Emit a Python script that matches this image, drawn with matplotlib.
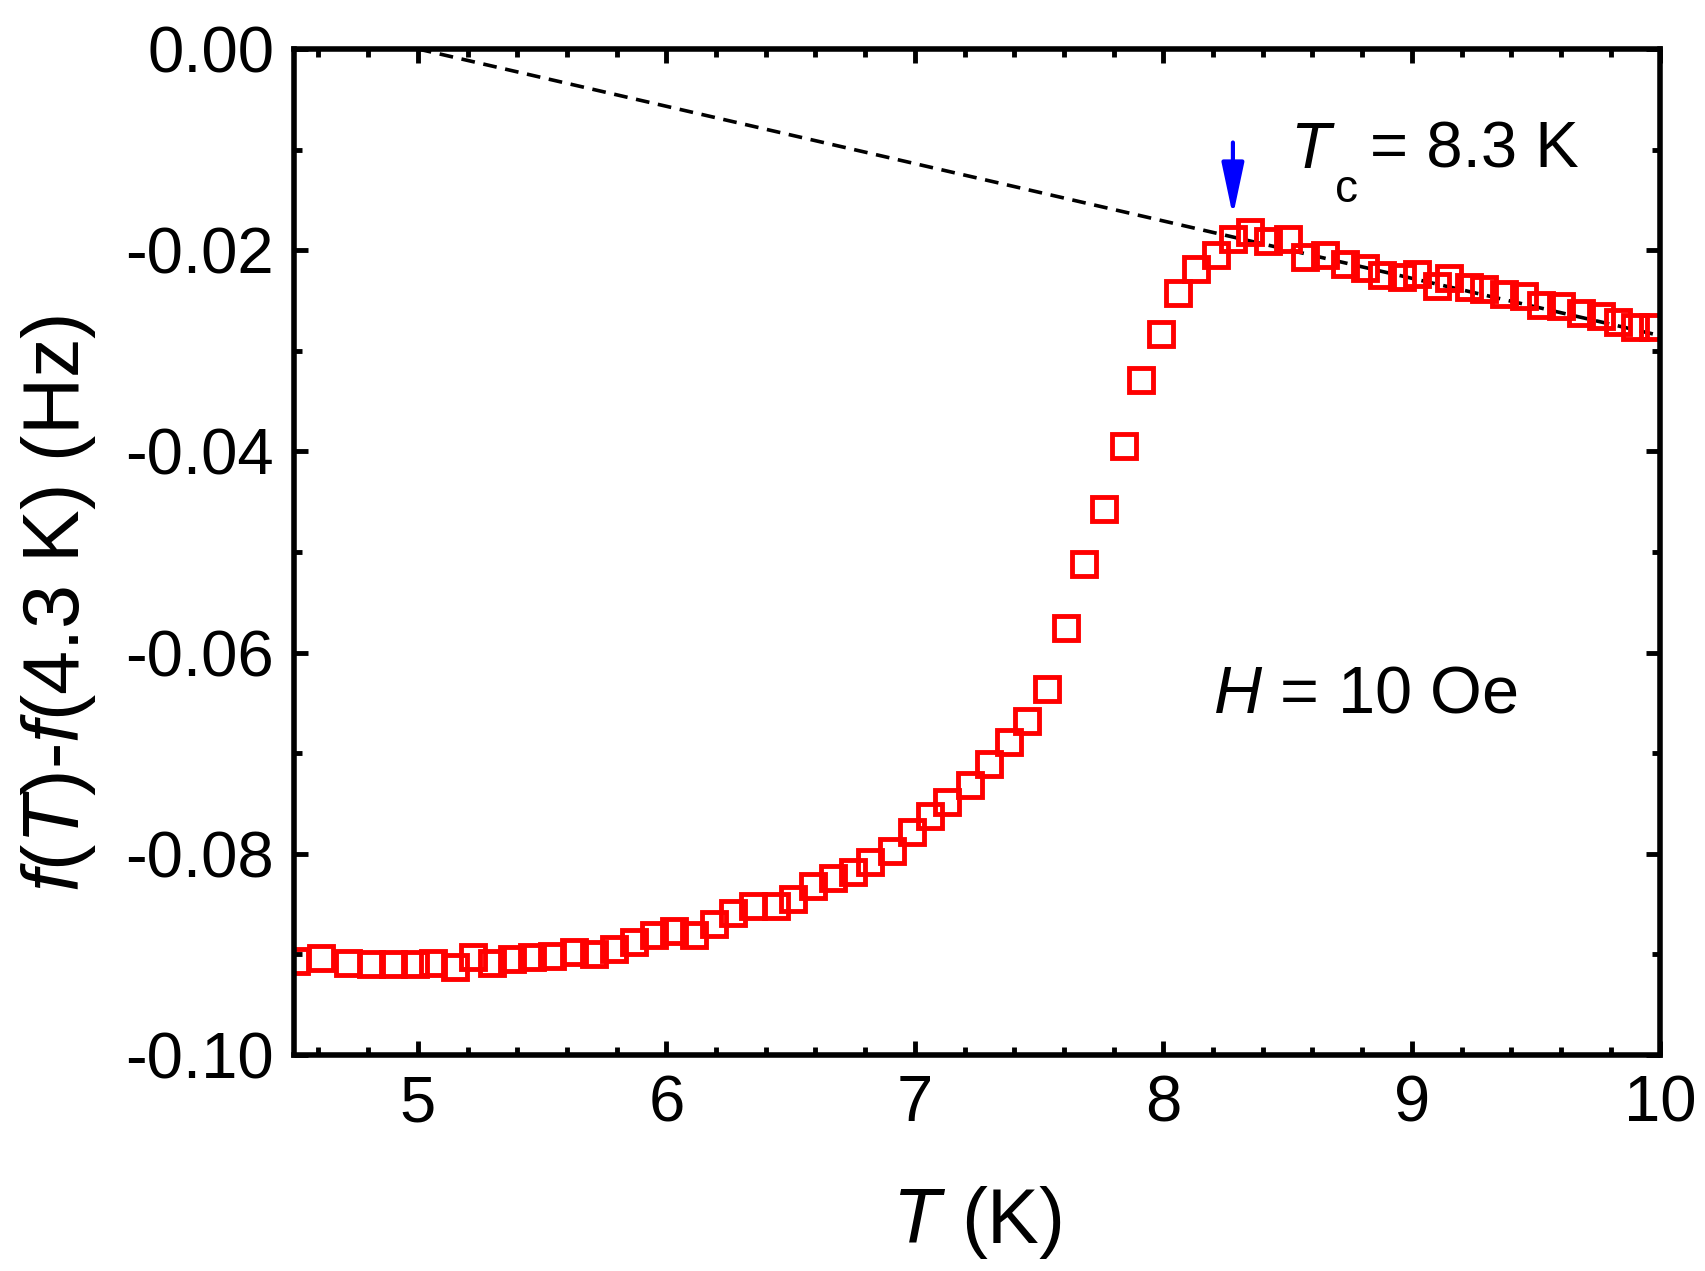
import matplotlib
matplotlib.use('Agg')
from matplotlib import pyplot as plt
from matplotlib.ticker import MultipleLocator, FuncFormatter
import numpy as np

plt.rcParams['font.family'] = ['Liberation Sans', 'DejaVu Sans']
plt.rcParams['mathtext.fontset'] = 'custom'
plt.rcParams['mathtext.rm'] = 'Liberation Sans'
plt.rcParams['mathtext.it'] = 'Liberation Sans:italic'

# Data
T = [4.51, 4.61, 4.72, 4.81, 4.90, 4.99, 5.06, 5.15, 5.22, 5.30,
     5.38, 5.46, 5.54, 5.63, 5.71, 5.79, 5.87, 5.95, 6.03, 6.11,
     6.19, 6.27, 6.35, 6.44, 6.51, 6.59, 6.67, 6.75, 6.82, 6.91,
     6.99, 7.06, 7.13, 7.22, 7.30, 7.38, 7.45, 7.53, 7.61, 7.68,
     7.76, 7.84, 7.91, 7.99, 8.06, 8.13, 8.21, 8.28, 8.35, 8.42,
     8.50, 8.57, 8.65, 8.73, 8.81, 8.88, 8.96, 9.02, 9.10, 9.15,
     9.23, 9.29, 9.37, 9.45, 9.52, 9.60, 9.68, 9.76, 9.83, 9.90, 9.97]
df = [-0.0907, -0.0904, -0.0909, -0.0910, -0.0910, -0.0910, -0.0909, -0.0913, -0.0903, -0.0909,
      -0.0905, -0.0903, -0.0902, -0.0898, -0.0900, -0.0895, -0.0888, -0.0881, -0.0877, -0.0881,
      -0.0870, -0.0859, -0.0852, -0.0852, -0.0845, -0.0832, -0.0824, -0.0818, -0.0808, -0.0797,
      -0.0778, -0.0762, -0.0749, -0.0732, -0.0711, -0.0689, -0.0668, -0.0636, -0.0576, -0.0512,
      -0.0457, -0.0395, -0.0329, -0.0283, -0.0243, -0.0219, -0.0205, -0.0189, -0.0182, -0.0191,
      -0.0189, -0.0207, -0.0205, -0.0214, -0.0218, -0.0225, -0.0227, -0.0224, -0.0236, -0.0228,
      -0.0237, -0.0239, -0.0244, -0.0246, -0.0255, -0.0256, -0.0262, -0.0265, -0.0271, -0.0276, -0.0276]

# Linear background (dashed line)
T_bg = [5.0, 10.0]
f_bg = [0.0, -0.0285]

Tc = 8.28

fig = plt.figure(figsize=(17.05, 12.71), dpi=100)
ax = fig.add_axes([0.1722, 0.170, 0.8016, 0.7915])

ax.plot(T_bg, f_bg, 'k--', lw=2.6, dashes=(3.8, 2.4))
ax.plot(T, df, 's', ms=17.5, mfc='none', mec='#ff0000', mew=3.5)

ax.annotate('', xy=(Tc, -0.0166), xytext=(Tc, -0.0093),
            arrowprops=dict(arrowstyle='-|>,head_length=0.8,head_width=0.17',
                            color='#0000ff', lw=3,
                            mutation_scale=40, shrinkA=0, shrinkB=0))

# T_c label: italic T with a low subscript c, as in the reference
ax.text(8.51, -0.0118, r'$T$', fontsize=47)
ax.text(8.69, -0.0152, 'c', fontsize=33)
ax.text(8.83, -0.0118, '= 8.3 K', fontsize=47)
ax.text(8.2, -0.0660, r'$H$ = 10 Oe', fontsize=48)

ax.set_xlim(4.5, 10)
ax.set_ylim(-0.10, 0.0)
ax.xaxis.set_major_locator(MultipleLocator(1))
ax.xaxis.set_minor_locator(MultipleLocator(0.2))
ax.yaxis.set_major_locator(MultipleLocator(0.02))
ax.yaxis.set_minor_locator(MultipleLocator(0.01))
ax.yaxis.set_major_formatter(FuncFormatter(lambda v, p: '%.2f' % (0.0 if abs(v) < 1e-9 else v)))

ax.tick_params(which='both', direction='in', top=True, right=True, labelsize=47)
ax.tick_params(which='major', length=10, width=3.5, pad=14)
ax.tick_params(which='minor', length=6, width=3.5)
for s in ax.spines.values():
    s.set_linewidth(4)

ax.set_xlabel(r'$T$ (K)', fontsize=56, labelpad=36)
ax.set_ylabel(r'$f$($T$)-$f$(4.3 K) (Hz)', fontsize=57)
ax.yaxis.set_label_coords(-0.143, 0.449)

plt.savefig('out.png', dpi=100)
